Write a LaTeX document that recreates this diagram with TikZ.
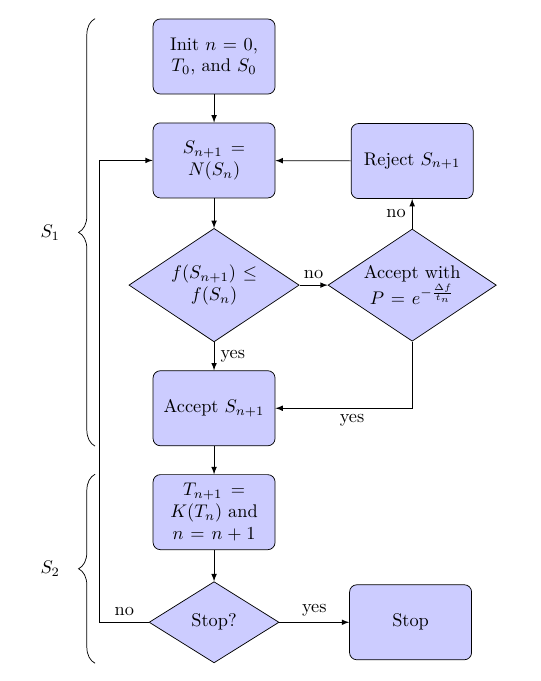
\documentclass[tikz,border=0pt]{standalone}
\usepackage{amsmath}
\usepackage{tikz}
\usetikzlibrary{positioning,shapes.geometric,decorations.pathreplacing}

\tikzset{
	block/.style={rectangle, draw, fill=blue!20, text width=6em, text centered, rounded corners, minimum height=4.1em},
	decision/.style={diamond, draw, fill=blue!20, text width=6em, text centered, aspect=1.5, inner sep=0pt},
	line/.style={draw, -latex},
	sbrace/.style={decorate, decoration={brace, amplitude=9pt}},
}

\begin{document}
\begin{tikzpicture}
		\useasboundingbox (-4.11,1.085) rectangle (6.26,-11.99);
		% Main column
		\node[block] (Init) at (0,0) {Init $n=0$, $T_0$, and $S_0$} ;
		\node[block, below=0.54cm of Init] (Neigh) {$S_{n+1} = N(S_n)$} ;
		\node[decision, below=0.57cm of Neigh] (Compare) {$f(S_{n+1}) \leq f(S_n)$} ;
		\node[block, below=0.54cm of Compare] (Accept) {Accept $S_{n+1}$} ;
		\node[block, below=0.54cm of Accept] (Cool) {$T_{n+1} = K(T_n)$ and $n=n+1$} ;
		\node[decision, aspect=1.6, text width=5.66em, below=0.6cm of Cool] (StopQ) {Stop?} ;
		% Right
		\node[decision, right=0.54cm of Compare] (Prob) {Accept with $P=e^{-\frac{\Delta f}{t_n}}$} ;
		\node[block, above=0.57cm of Prob] (Reject) {Reject $S_{n+1}$} ;
		\node[block, right=1.34cm of StopQ] (Stop) {Stop} ;
		% Brace ends
		\coordinate (B1top) at (-2.285,0 |- Init.north) ;
		\coordinate (B1bot) at (-2.285,0 |- Accept.south) ;
		\coordinate (B2top) at (-2.285,0 |- Cool.north) ;
		\coordinate (B2bot) at (-2.285,0 |- StopQ.south) ;
		% Edges
		\path[line] (Init) -- (Neigh) ;
		\path[line] (Neigh) -- (Compare) ;
		\path[line] (Compare) -- node[above] {no} (Prob) ;
		\path[line] (Compare) -- node[right] {yes} (Accept) ;
		\path[line] (Prob) -- node[left] {no} (Reject) ;
		\path[line] (Prob.south) |- node[below, pos=0.72] {yes} (Accept.east) ;
		\path[line] (Reject) -- (Neigh) ;
		\path[line] (Accept) -- (Cool) ;
		\path[line] (Cool) -- (StopQ) ;
		\path[line] (StopQ) -- node[above] {yes} (Stop) ;
		\path[line] (StopQ.west) -- node[above] {no} ++(-0.94,0) |- (Neigh.west) ;
		% Braces
		\draw[sbrace] (B1bot) -- (B1top) node[midway, left=0.55cm] {$S_1$} ;
		\draw[sbrace] (B2bot) -- (B2top) node[midway, left=0.55cm] {$S_2$} ;
	\end{tikzpicture}
\end{document}
